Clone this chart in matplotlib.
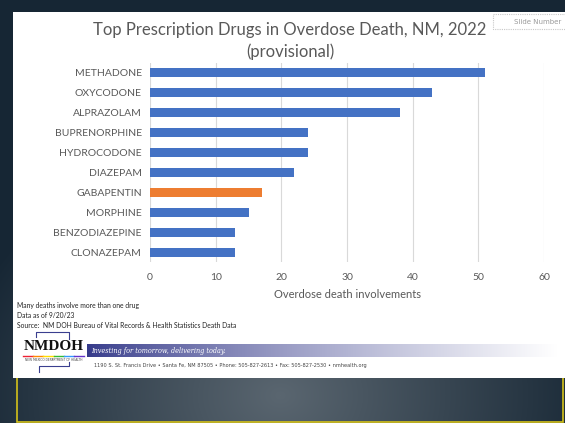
import numpy as np
import matplotlib
matplotlib.use("Agg")
import matplotlib.pyplot as plt
from matplotlib.patches import Rectangle

drugs = ["METHADONE", "OXYCODONE", "ALPRAZOLAM", "BUPRENORPHINE", "HYDROCODONE",
         "DIAZEPAM", "GABAPENTIN", "MORPHINE", "BENZODIAZEPINE", "CLONAZEPAM"]
values = [51, 43, 38, 24, 24, 22, 17, 15, 13, 13]
highlight = "GABAPENTIN"
xticks = [0, 10, 20, 30, 40, 50, 60]

W, H = 565, 423
fig = plt.figure(figsize=(W / 100, H / 100), dpi=100)
FONT = "Lato"

# background gradient
bg = fig.add_axes([0, 0, 1, 1])
yy, xx = np.mgrid[0:H, 0:W]
d = np.sqrt(((xx - 280) / 330.0) ** 2 + ((yy - 395) / 260.0) ** 2)
d = np.clip(d, 0, 1)
c1 = np.array([0x5a, 0x66, 0x70]) / 255
c2 = np.array([0x16, 0x26, 0x34]) / 255
img = c1[None, None, :] * (1 - d[..., None]) + c2[None, None, :] * d[..., None]
bg.imshow(img, extent=[0, W, H, 0], aspect="auto")
bg.set_xlim(0, W)
bg.set_ylim(H, 0)
bg.axis("off")
# yellow box
bg.add_patch(Rectangle((17, 370), 546, 52, facecolor="none", edgecolor="#d4c21a", lw=1.2))
# white panel
bg.add_patch(Rectangle((12.5, 12), W, 366, facecolor="white", edgecolor="none"))
# slide number box
bg.add_patch(Rectangle((493, 14), 75, 15, facecolor="white", edgecolor="#c8c8c8", lw=0.8, ls=(0, (1, 1))))
bg.text(538, 21.5, "Slide Number", fontsize=5, color="#9a9a9a", ha="center", va="center")

# banner gradient
grad = np.linspace(0, 1, 200) ** 0.8
dark = np.array([0x35, 0x3a, 0x8a]) / 255
light = np.array([1, 1, 1])
bimg = dark[None, :] * (1 - grad[:, None]) + light[None, :] * grad[:, None]
bg.imshow(bimg[None, :, :], extent=[87, 558, 357.5, 345], aspect="auto", zorder=2)
bg.text(91, 351, "Investing for tomorrow, delivering today.", fontsize=4.7, color="white",
        style="italic", family="DejaVu Serif", va="center", zorder=3)
bg.text(94, 366, "1190 S. St. Francis Drive \u2022 Santa Fe, NM 87505 \u2022 Phone: 505-827-2613 \u2022 Fax: 505-827-2530 \u2022 nmhealth.org",
        fontsize=3.6, color="#444444", va="center", zorder=3)
# logo
bg.text(53.5, 347, "NMDOH", fontsize=11, fontweight="bold", family="Liberation Serif",
        color="#111111", ha="center", va="center", zorder=3)
bg.plot([36, 36, 69, 69], [337, 332, 332, 339], color="#3a3f8f", lw=0.8, zorder=3)
bg.plot([39, 39, 69, 69], [372, 366, 366, 362], color="#3a3f8f", lw=0.8, zorder=3)
cols = ["#e23", "#f80", "#fd0", "#3b3", "#39f", "#63c"]
for i, c in enumerate(cols):
    bg.plot([23 + i * 10.2, 23 + (i + 1) * 10.2], [356, 356], color=c, lw=1.0, zorder=3)
bg.text(53.5, 360, "NEW MEXICO DEPARTMENT OF HEALTH", fontsize=2.2, color="#444444",
        ha="center", va="center", zorder=3)

# footnotes
for i, t in enumerate(["Many deaths involve more than one drug", "Data as of 9/20/23",
                       "Source:  NM DOH Bureau of Vital Records & Health Statistics Death Data"]):
    bg.text(17, 305.7 + i * 10, t, fontsize=4.9, color="#222222", va="center", family=FONT)

# title
bg.text(290, 30, "Top Prescription Drugs in Overdose Death, NM, 2022", fontsize=12,
        color="#595959", ha="center", va="center", family=FONT)
bg.text(290, 52, "(provisional)", fontsize=12, color="#595959", ha="center", va="center",
        family=FONT)

# main chart
ax = fig.add_axes([150 / W, 1 - 262 / H, (544 - 150) / W, (262 - 63) / H])
y = np.arange(len(drugs))
colors = ["#ED7D31" if d_ == highlight else "#4472C4" for d_ in drugs]
ax.barh(y, values, height=0.45, color=colors, zorder=3)
ax.set_ylim(len(drugs) - 0.5, -0.5)
ax.set_xlim(0, 60)
ax.set_xticks(xticks)
ax.set_yticks(y)
ax.set_yticklabels(drugs, fontsize=7.5, color="#595959", family=FONT)
ax.tick_params(axis="x", labelsize=7.5, labelcolor="#595959", length=0, pad=8)
for lab in ax.get_xticklabels():
    lab.set_family(FONT)
ax.tick_params(axis="y", length=0, pad=6)
ax.grid(axis="x", color="#d9d9d9", lw=0.8, zorder=0)
for s in ax.spines.values():
    s.set_visible(False)
ax.set_xlabel("Overdose death involvements", fontsize=8, color="#595959",
              family=FONT, labelpad=5)
ax.set_facecolor("none")

fig.savefig("out.png", dpi=100)
